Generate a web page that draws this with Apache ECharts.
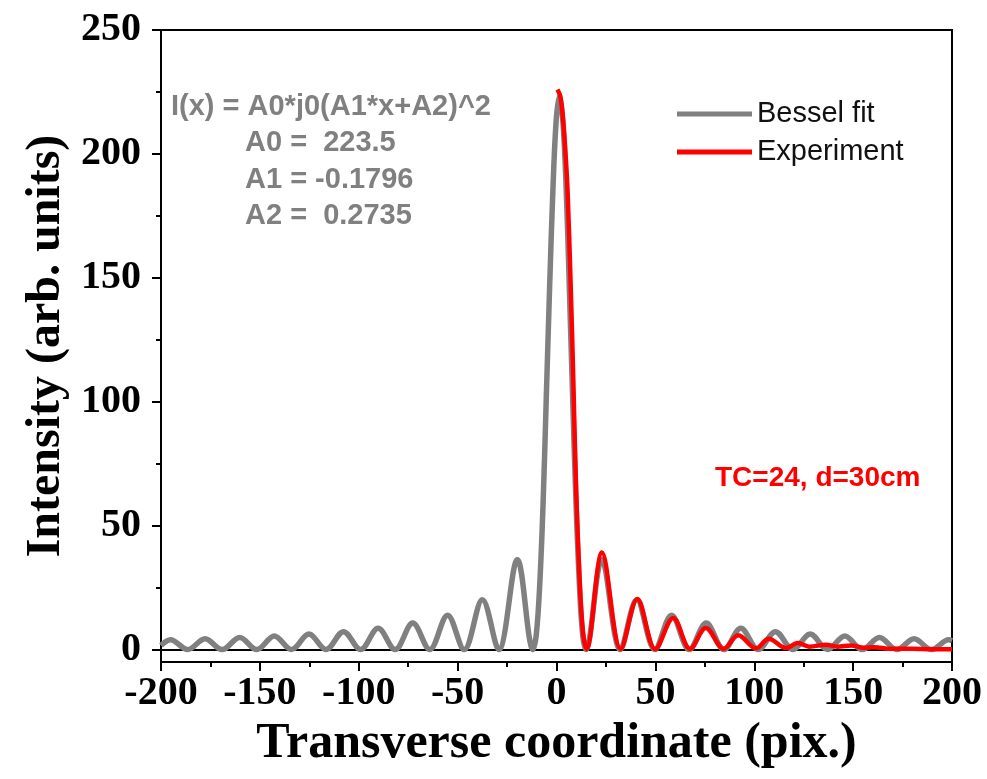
<!DOCTYPE html>
<html>
<head>
<meta charset="utf-8">
<script src="https://cdn.jsdelivr.net/npm/echarts@6/dist/echarts.min.js"></script>
<style>
html, body { margin: 0; padding: 0; background: #fff; }
#chart { width: 987px; height: 779px; }
</style>
</head>
<body>
<div id="chart"></div>
<script>
// Bessel fit curve (x in pix., intensity)
var besselX = [-200, -195.2, -186.5, -177.7, -169.1, -160.2, -151.6, -142.7, -134.1, -125.2,
    -116.6, -107.7, -99.1, -90.2, -81.6, -72.7, -64.1, -55.1, -46.7, -37.5,
    -29.2, -19.8, -11.9, -10.2, -8.5, -6.8, -5.2, -3.5, -1.8, -0.15,
    1.5, 3.2, 4.9, 6.5, 8.2, 9.9, 11.6, 13.2, 14.9, 22.9,
    32.3, 40.6, 49.7, 58.2, 67.2, 75.7, 84.7, 93.2, 102.1, 110.7,
    119.6, 128.3, 137.1, 145.8, 154.6, 163.3, 172.1, 180.8, 189.6, 198.3, 200];
var besselY = [1.7, 4.0, 0, 4.4, 0, 4.9, 0, 5.5, 0, 6.25,
    0, 7.25, 0, 8.6, 0, 10.7, 0, 13.9, 0, 20.1,
    0, 36.3, 0, 6.2, 25.8, 58.5, 100.7, 145.7, 185.9, 213.6,
    223.5, 213.6, 185.9, 145.7, 100.7, 58.5, 25.8, 6.2, 0, 36.3,
    0, 20.1, 0, 13.9, 0, 10.7, 0, 8.6, 0, 7.25,
    0, 6.25, 0, 5.5, 0, 4.9, 0, 4.4, 0, 4.0, 3.6];

// measured profile
var expX = [0.5, 2, 3.5, 4.8, 5.6, 7.1, 8.5, 9.8, 11.7, 13.4, 15.2, 23.0,
    32.5, 40.9, 50.0, 59.0, 67.6, 75.5, 84.6, 91.9, 100.9, 107.3,
    116.1, 122, 127.9, 136.3, 142, 149, 155.6, 160.6, 168.9, 180, 190, 200];
var expY = [226, 223, 212, 197, 185, 149, 109, 68, 28, 7, 0.3, 39.2,
    0.2, 20.4, 0.2, 12.8, 0.3, 8.7, 0.3, 5.8, 0.5, 4.4,
    0.6, 2.7, 1.2, 2.0, 1.2, 1.7, 0.7, 1.0, 0.3, 0.3, 0.1, 0.1];

var xLabelTicks = [-200, -150, -100, -50, 0, 50, 100, 150, 200];
var yLabelTicks = [0, 50, 100, 150, 200, 250];
var yMinorTicks = [25, 75, 125, 175, 225];

function pairs(xs, ys) {
    var out = [];
    for (var i = 0; i < xs.length; i++) out.push([xs[i], ys[i]]);
    return out;
}

var myChart = echarts.init(document.getElementById('chart'));
var serif = 'Liberation Serif';
var sans = 'Liberation Sans';

var option = {
    animation: false,
    grid: {
        left: 161, right: 35, top: 30, bottom: 117,
        show: true, borderColor: '#000', borderWidth: 2, backgroundColor: 'transparent'
    },
    legend: {
        orient: 'vertical',
        left: 672, top: 94,
        itemWidth: 75, itemHeight: 5, itemGap: 8,
        icon: 'rect',
        data: ['Bessel fit', 'Experiment'],
        textStyle: { fontFamily: sans, fontSize: 29, color: '#111', lineHeight: 30 }
    },
    xAxis: {
        type: 'value',
        min: -200, max: 200, interval: 50,
        name: 'Transverse coordinate (pix.)',
        nameLocation: 'middle', nameGap: 50,
        nameTextStyle: { fontFamily: serif, fontWeight: 'bold', fontSize: 50, color: '#000' },
        axisLine: { onZero: false, lineStyle: { color: '#000', width: 2 } },
        axisTick: { length: 9, lineStyle: { width: 2, color: '#000' } },
        minorTick: { show: true, splitNumber: 2, length: 5, lineStyle: { width: 2, color: '#000' } },
        splitLine: { show: false },
        axisLabel: {
            margin: 12,
            fontFamily: serif, fontWeight: 'bold', fontSize: 40, color: '#000',
            customValues: xLabelTicks
        }
    },
    yAxis: [{
        type: 'value',
        min: -5, max: 250,
        name: 'Intensity (arb. units)',
        nameLocation: 'middle', nameGap: 88,
        nameTextStyle: { fontFamily: serif, fontWeight: 'bold', fontSize: 48, color: '#000' },
        axisLine: { onZero: false, lineStyle: { color: '#000', width: 2 } },
        axisTick: { length: 9, customValues: yLabelTicks, lineStyle: { width: 2, color: '#000' } },
        splitLine: { show: false },
        axisLabel: {
            margin: 20,
            customValues: yLabelTicks,
            fontFamily: serif, fontWeight: 'bold', fontSize: 40, color: '#000'
        }
    }, {
        type: 'value',
        position: 'left',
        min: -5, max: 250,
        axisLine: { show: false, onZero: false },
        axisTick: { length: 5, customValues: yMinorTicks, lineStyle: { width: 2, color: '#000' } },
        axisLabel: { show: false, customValues: yMinorTicks },
        splitLine: { show: false }
    }],
    series: [
        {
            name: 'Bessel fit',
            type: 'line',
            data: pairs(besselX, besselY),
            smooth: 0.35,
            showSymbol: false,
            color: '#808080',
            lineStyle: { color: '#808080', width: 5.5 },
            markLine: {
                silent: true, symbol: 'none', z: 1,
                label: { show: false },
                lineStyle: { color: '#000', width: 2, type: 'solid' },
                data: [{ yAxis: 0 }]
            }
        },
        {
            name: 'Experiment',
            type: 'line',
            data: pairs(expX, expY),
            smooth: 0.35,
            showSymbol: false,
            color: '#ff0000',
            lineStyle: { color: '#ff0000', width: 4.5 }
        }
    ],
    graphic: [
        { type: 'text', left: 171, top: 92, style: { text: 'I(x) = A0*j0(A1*x+A2)^2', fontFamily: sans, fontWeight: 'bold', fontSize: 29, fill: '#808080' } },
        { type: 'text', left: 245, top: 128, style: { text: 'A0 =  223.5', fontFamily: sans, fontWeight: 'bold', fontSize: 29, fill: '#808080' } },
        { type: 'text', left: 245, top: 165, style: { text: 'A1 = -0.1796', fontFamily: sans, fontWeight: 'bold', fontSize: 29, fill: '#808080' } },
        { type: 'text', left: 245, top: 201, style: { text: 'A2 =  0.2735', fontFamily: sans, fontWeight: 'bold', fontSize: 29, fill: '#808080' } },
        { type: 'text', left: 715, top: 464, style: { text: 'TC=24, d=30cm', fontFamily: sans, fontWeight: 'bold', fontSize: 28, fill: '#ff0000' } }
    ]
};

myChart.setOption(option);
</script>
</body>
</html>
